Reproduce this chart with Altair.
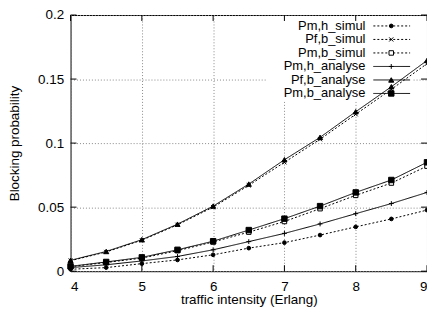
import altair as alt
import pandas as pd

x_vals = [4, 4.5, 5, 5.5, 6, 6.5, 7, 7.5, 8, 8.5, 9]
series_names = ["Pm,h_simul", "Pf,b_simul", "Pm,b_simul",
                "Pm,h_analyse", "Pf,b_analyse", "Pm,b_analyse"]
pm_h_simul = [0.0015, 0.0028, 0.0059, 0.0088, 0.0128, 0.0180, 0.0223, 0.0282, 0.0346, 0.0408, 0.0477]
pf_b_simul = [0.0082, 0.0150, 0.0242, 0.0362, 0.0500, 0.0670, 0.0850, 0.1030, 0.1225, 0.1420, 0.1620]
pm_b_simul = [0.0035, 0.0068, 0.0102, 0.0160, 0.0228, 0.0305, 0.0388, 0.0488, 0.0592, 0.0688, 0.0820]
pm_h_analyse = [0.0028, 0.0050, 0.0080, 0.0115, 0.0167, 0.0231, 0.0295, 0.0369, 0.0449, 0.0528, 0.0615]
pf_b_analyse = [0.0085, 0.0154, 0.0246, 0.0367, 0.0508, 0.0680, 0.0870, 0.1045, 0.1245, 0.1440, 0.1645]
pm_b_analyse = [0.0038, 0.0072, 0.0108, 0.0167, 0.0234, 0.0321, 0.0410, 0.0508, 0.0615, 0.0712, 0.0850]
x_ticks = [4, 5, 6, 7, 8, 9]
y_ticks = [0, 0.05, 0.1, 0.15, 0.2]

all_series = [pm_h_simul, pf_b_simul, pm_b_simul, pm_h_analyse, pf_b_analyse, pm_b_analyse]
rows = []
for name, vals in zip(series_names, all_series):
    for xv, yv in zip(x_vals, vals):
        rows.append({"series": name, "x": xv, "y": yv})
df = pd.DataFrame(rows)
leg_df = pd.DataFrame({"series": series_names})
xt_df = pd.DataFrame({"t": x_ticks})
yt_df = pd.DataFrame({"t": y_ticks})

W, H = 359, 258
FONT = "Liberation Sans"
FS = 13.5

xs = alt.Scale(domain=[4, 9], nice=False, zero=False)
ys = alt.Scale(domain=[0, 0.2], nice=False)

dash_scale = alt.Scale(domain=series_names,
                       range=[[2, 2], [2, 2], [2, 2], [1, 0], [1, 0], [1, 0]])
shape_scale = alt.Scale(domain=series_names,
                        range=["circle", "M-1,-1L1,1M-1,1L1,-1", "square",
                               "M-1,0L1,0M0,-1L0,1", "triangle-up", "square"])
fill_scale = alt.Scale(domain=series_names,
                       range=["black", "transparent", "white", "transparent", "black", "black"])
size_scale = alt.Scale(domain=series_names, range=[14, 30, 28, 36, 30, 24])

X = alt.X("x:Q", scale=xs,
          axis=alt.Axis(values=x_ticks, format="d", title="traffic intensity (Erlang)",
                        grid=True, gridColor="#888", gridDash=[1, 2], domain=False,
                        ticks=False, labelPadding=8, labelFontSize=FS, titleFontSize=FS,
                        labelFont=FONT, titleFont=FONT, labelColor="black", titleColor="black",
                        titleFontWeight="normal", titleY=33, titleBaseline="alphabetic"))
Y = alt.Y("y:Q", scale=ys,
          axis=alt.Axis(values=y_ticks, format="~g", title="Blocking probability",
                        grid=True, gridColor="#888", gridDash=[1, 2], domain=False,
                        ticks=False, labelPadding=7, labelFontSize=FS, titleFontSize=FS,
                        labelFont=FONT, titleFont=FONT, labelColor="black", titleColor="black",
                        titleFontWeight="normal", titleX=-56, titleBaseline="middle"))

one = pd.DataFrame({"a": [0]})
bg = alt.Chart(one).mark_rect(fill="white").encode(
    x=alt.value(197), x2=alt.value(344), y=alt.value(1), y2=alt.value(87))

tick_len = 6
xt_bot = alt.Chart(xt_df).mark_rule(color="black").encode(
    x=alt.X("t:Q", scale=xs), y=alt.value(H), y2=alt.value(H - tick_len))
xt_top = alt.Chart(xt_df).mark_rule(color="black").encode(
    x=alt.X("t:Q", scale=xs), y=alt.value(0), y2=alt.value(tick_len))
yt_left = alt.Chart(yt_df).mark_rule(color="black").encode(
    y=alt.Y("t:Q", scale=ys), x=alt.value(0), x2=alt.value(tick_len))
yt_right = alt.Chart(yt_df).mark_rule(color="black").encode(
    y=alt.Y("t:Q", scale=ys), x=alt.value(W - tick_len), x2=alt.value(W))

lines = alt.Chart(df).mark_line(color="black", strokeWidth=1).encode(
    x=X, y=Y,
    strokeDash=alt.StrokeDash("series:N", scale=dash_scale, legend=None),
    order="x:Q")
points = alt.Chart(df).mark_point(stroke="black", strokeWidth=1, opacity=1).encode(
    x=alt.X("x:Q", scale=xs), y=alt.Y("y:Q", scale=ys),
    shape=alt.Shape("series:N", scale=shape_scale, legend=None),
    fill=alt.Fill("series:N", scale=fill_scale, legend=None),
    size=alt.Size("series:N", scale=size_scale, legend=None))

main = alt.layer(bg, lines, points, xt_bot, xt_top, yt_left, yt_right)

leg_y = alt.Y("series:N", sort=series_names,
              scale=alt.Scale(type="point", domain=series_names, range=[11, 79], padding=0),
              axis=None)
leg_text = alt.Chart(leg_df).mark_text(align="right", baseline="middle", fontSize=13,
                                       font=FONT, color="black").encode(
    x=alt.value(297), y=leg_y, text="series:N")
leg_rule = alt.Chart(leg_df).mark_rule(color="black", strokeWidth=1).encode(
    x=alt.value(305), x2=alt.value(342), y=leg_y,
    strokeDash=alt.StrokeDash("series:N", scale=dash_scale, legend=None))
leg_pts = alt.Chart(leg_df).mark_point(stroke="black", strokeWidth=1, opacity=1).encode(
    x=alt.value(323), y=leg_y,
    shape=alt.Shape("series:N", scale=shape_scale, legend=None),
    fill=alt.Fill("series:N", scale=fill_scale, legend=None),
    size=alt.Size("series:N", scale=size_scale, legend=None))
legend = alt.layer(leg_text, leg_rule, leg_pts)

chart = alt.layer(main, legend).resolve_scale(y="independent").properties(
    width=W, height=H,
    autosize=alt.AutoSizeParams(type="none"),
    padding={"left": 63, "top": 6, "right": 0, "bottom": 36},
    background="white",
).configure_view(stroke="black", strokeWidth=1)

chart.save("out.html", embed_options={"renderer": "svg", "actions": False})
